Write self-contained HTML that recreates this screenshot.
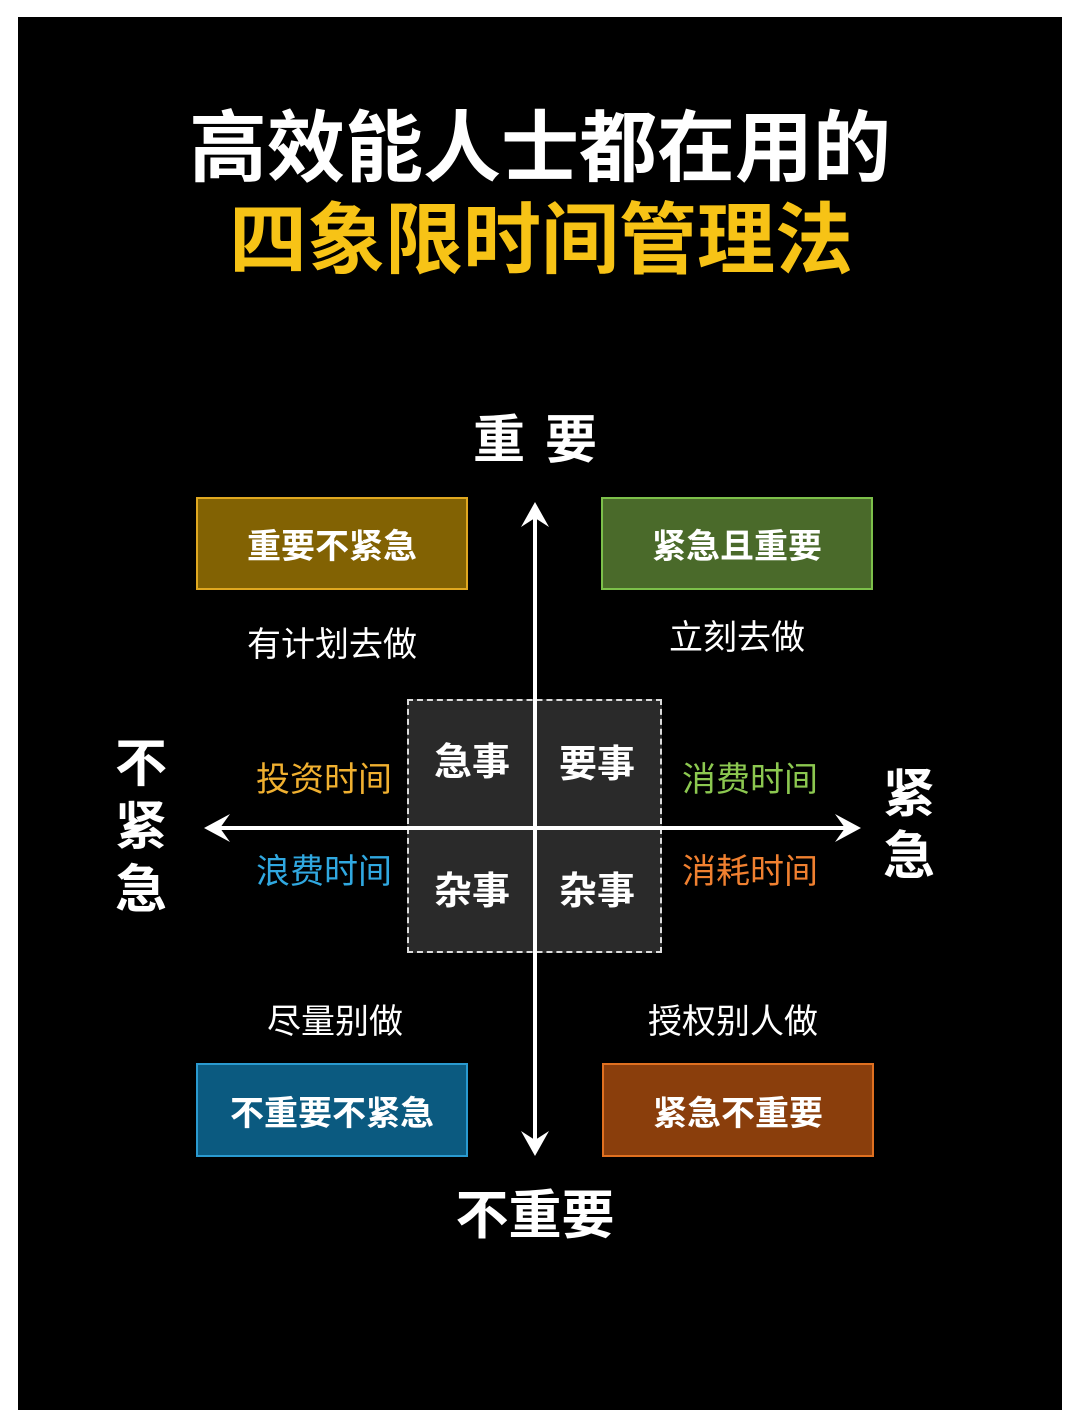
<!DOCTYPE html>
<html><head><meta charset="utf-8"><style>
body{margin:0;width:1080px;height:1428px;background:#fff;position:relative;overflow:hidden;font-family:"Liberation Sans","Noto Sans CJK SC",sans-serif}
#p{position:absolute;left:18px;top:17px;width:1044px;height:1393px;background:#000}
.t{position:absolute;white-space:nowrap;transform:translate(-50%,-50%);line-height:1}
.b{font-weight:bold}
.box{position:absolute;box-sizing:border-box;border:2px solid;display:flex;align-items:center;justify-content:center;color:#fff;font-weight:bold;font-size:34px}
</style></head><body>
<div id="p"></div>
<div class="t b" style="left:540px;top:148px;font-size:78px;color:#fff">高效能人士都在用的</div>
<div class="t b" style="left:541px;top:240px;font-size:78px;color:#f7c316">四象限时间管理法</div>
<div class="t b" style="left:535px;top:441px;font-size:52px;color:#fff;letter-spacing:20px;padding-left:20px">重要</div>
<div class="t b" style="left:535px;top:1216px;font-size:53px;color:#fff">不重要</div>
<div class="t b" style="left:141px;top:828px;font-size:52px;color:#fff;width:54px;white-space:normal;line-height:63px;text-align:center">不紧急</div>
<div class="t b" style="left:909px;top:826px;font-size:52px;color:#fff;width:54px;white-space:normal;line-height:62px;text-align:center">紧急</div>

<div class="box" style="left:196px;top:497px;width:272px;height:93px;background:#826203;border-color:#e0a820">重要不紧急</div>
<div class="box" style="left:601px;top:497px;width:272px;height:93px;background:#4a6a2a;border-color:#7cc04a">紧急且重要</div>
<div class="box" style="left:196px;top:1063px;width:272px;height:94px;background:#0b5a80;border-color:#2a9ad0">不重要不紧急</div>
<div class="box" style="left:602px;top:1063px;width:272px;height:94px;background:#8a3e0c;border-color:#e07020">紧急不重要</div>

<div class="t" style="left:332px;top:645px;font-size:34px;color:#fff">有计划去做</div>
<div class="t" style="left:737px;top:638px;font-size:34px;color:#fff">立刻去做</div>
<div class="t" style="left:335px;top:1022px;font-size:34px;color:#fff">尽量别做</div>
<div class="t" style="left:733px;top:1022px;font-size:34px;color:#fff">授权别人做</div>

<div style="position:absolute;left:407px;top:699px;width:255px;height:254px;box-sizing:border-box;border:2px dashed #ddd;background:#2a2a2a"></div>
<svg style="position:absolute;left:0;top:0" width="1080" height="1428">
<line x1="535" y1="510" x2="535" y2="1148" stroke="#fff" stroke-width="4"/>
<polygon points="535,502 521,527 535,518 549,527" fill="#fff"/>
<polygon points="535,1156 521,1131 535,1140 549,1131" fill="#fff"/>
<line x1="212" y1="828" x2="852" y2="828" stroke="#fff" stroke-width="4"/>
<polygon points="204,828 230,814 220,828 230,842" fill="#fff"/>
<polygon points="861,828 835,814 845,828 835,842" fill="#fff"/>
</svg>
<div class="t b" style="left:472px;top:763px;font-size:38px;color:#fff">急事</div>
<div class="t b" style="left:597px;top:765px;font-size:38px;color:#fff">要事</div>
<div class="t b" style="left:472px;top:892px;font-size:38px;color:#fff">杂事</div>
<div class="t b" style="left:597px;top:892px;font-size:38px;color:#fff">杂事</div>

<div class="t" style="left:324px;top:780px;font-size:34px;color:#f0b030">投资时间</div>
<div class="t" style="left:324px;top:872px;font-size:34px;color:#30a8e0">浪费时间</div>
<div class="t" style="left:750px;top:780px;font-size:34px;color:#8cc850">消费时间</div>
<div class="t" style="left:750px;top:872px;font-size:34px;color:#f08030">消耗时间</div>
</body></html>
